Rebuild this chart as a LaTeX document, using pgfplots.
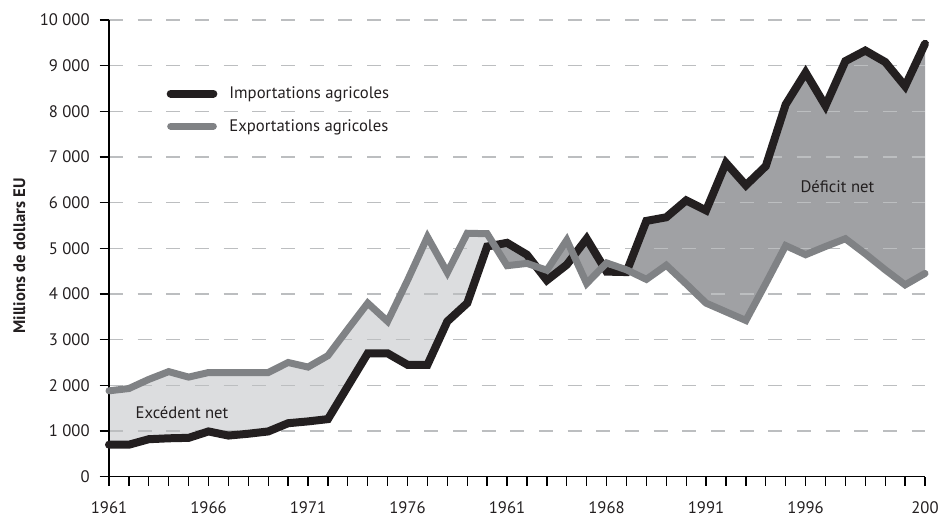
\documentclass[border=0pt]{standalone}
\usepackage{fontspec}
\setmainfont{PT Sans}
\usepackage{pgfplots}
\pgfplotsset{compat=1.18}
\usepgfplotslibrary{fillbetween}
\definecolor{impc}{HTML}{231F20}
\definecolor{expc}{HTML}{808285}
\definecolor{lightf}{HTML}{DCDDDF}
\definecolor{darkf}{HTML}{A0A1A4}
\definecolor{gridc}{HTML}{BCBEC0}
\pgfplotstableread{
x imp exp
0 700 1880
1 700 1930
2 820 2130
3 840 2300
4 850 2180
5 990 2280
6 900 2280
7 940 2280
8 990 2280
9 1170 2500
10 1210 2400
11 1260 2650
12 1980 3230
13 2700 3800
14 2700 3400
15 2450 4300
16 2450 5250
17 3400 4470
18 3800 5330
19 5040 5320
20 5120 4620
21 4860 4670
22 4300 4520
23 4640 5180
24 5210 4230
25 4490 4680
26 4480 4530
27 5600 4320
28 5680 4630
29 6050 4220
30 5830 3800
31 6870 3610
32 6380 3420
33 6800 4230
34 8150 5060
35 8850 4860
36 8120 5040
37 9100 5210
38 9330 4880
39 9080 4530
40 8550 4200
41 9480 4450
}\datatable
\pgfplotsset{mylegimg/.style={legend image code/.code={\draw[##1] (0pt,0pt) -- (32pt,0pt); \path[draw=none,fill=none] (-3pt,0pt) -- (42pt,0pt);}}}
\begin{document}
\begin{tikzpicture}
\begin{axis}[
  name=ax, set layers, clip=false,
  scale only axis, width=612pt, height=342.5pt,
  xmin=0, xmax=41, ymin=0, ymax=10000,
  scaled y ticks=false, scaled x ticks=false,
  axis x line*=bottom, axis y line*=left,
  axis line style={black, line width=1pt},
  tick align=outside, major tick length=7pt, minor tick length=7pt,
  tick style={black, line width=1pt},
  xtick={0,5,10,15,20,25,30,35,41},
  xticklabels={1961,1966,1971,1976,1961,1968,1991,1996,200},
  minor xtick={0,...,41},
  ytick={0,1000,...,10000},
  yticklabels={0,1 000,2 000,3 000,4 000,5 000,6 000,7 000,8 000,9 000,10 000},
  /pgf/number format/assume math mode=true,
  tick label style={font=\fontsize{12.5}{14}\selectfont, text=impc},
  xticklabel style={yshift=-8pt},
  yticklabel style={xshift=-4pt},
  ymajorgrids,
  major grid style={gridc, line width=1pt, dash pattern=on 10.5pt off 11pt},
  ylabel={Millions de dollars EU},
  ylabel style={font=\bfseries\fontsize{12.5}{14}\selectfont, text=impc, at={(axis description cs:-0.0966,0.483)}, anchor=south},
  legend style={draw=none, fill=none, inner sep=0pt, outer sep=0pt, at={(axis description cs:0.0707,0.803)}, anchor=west,
    font=\fontsize{12.5}{14}\selectfont, text=impc, row sep=10pt},
  legend cell align=left,
]
\addplot[name path=exp, draw=none, forget plot] table[x=x, y=exp] {\datatable};
\addplot[name path=imp, draw=none, forget plot] table[x=x, y=imp] {\datatable};
\addplot[lightf, forget plot] fill between[of=exp and imp, soft clip={domain=0:19.36}, on layer=axis background];
\addplot[darkf, forget plot] fill between[of=exp and imp, soft clip={domain=19.36:41}, on layer=axis background];
\addplot[impc, line width=6pt, line cap=round, line join=miter, mylegimg] table[x=x, y=imp] {\datatable};
\addlegendentry{Importations agricoles}
\addplot[expc, line width=5.25pt, line cap=round, line join=miter, mylegimg] table[x=x, y=exp] {\datatable};
\addlegendentry{Exportations agricoles}
\node[font=\fontsize{12.5}{14}\selectfont, text=impc] at (axis cs:3.67,1400) {Excédent net};
\node[font=\fontsize{12.5}{14}\selectfont, text=impc] at (axis cs:36.6,6350) {Déficit net};
\end{axis}
\pgfresetboundingbox
\path[use as bounding box] ([xshift=-81.75pt,yshift=-34.7pt]ax.south west) rectangle ([xshift=9.75pt,yshift=15pt]ax.north east);
\end{tikzpicture}
\end{document}
